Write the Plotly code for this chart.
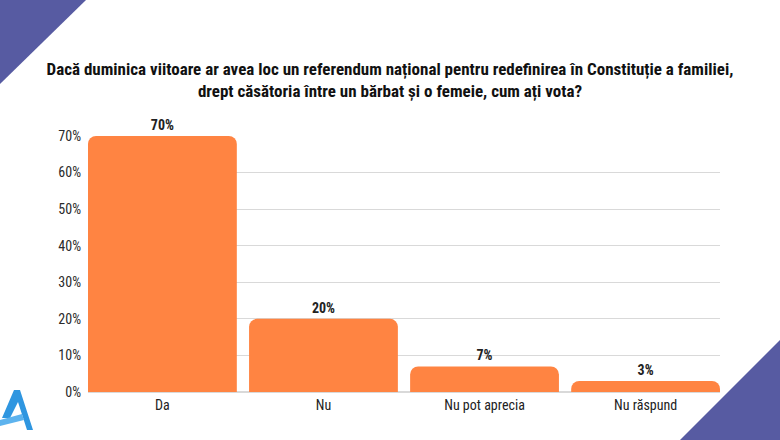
import plotly.graph_objects as go

categories = ["Da", "Nu", "Nu pot aprecia", "Nu răspund"]
values = [70, 20, 7, 3]
tick_vals = [0, 10, 20, 30, 40, 50, 60, 70]
tick_text = ["0%", "10%", "20%", "30%", "40%", "50%", "60%", "70%"]
title_text = ("Dacă duminica viitoare ar avea loc un referendum național pentru redefinirea în Constituție a familiei,<br>"
              "drept căsătoria între un bărbat și o femeie, cum ați vota?")

FONT = "Roboto Condensed, Roboto, sans-serif"
W, H = 780, 440
L, R, T, B = 88, 60, 136, 48
pw, ph = W - L - R, H - T - B

def px(x):
    return (x - L) / pw

def py(y):
    return (H - B - y) / ph

fig = go.Figure(go.Bar(
    x=categories, y=values,
    marker=dict(color="#FF8442", line=dict(width=0)),
    text=[f"{v}%" for v in values], textposition="outside",
    textfont=dict(family=FONT, size=14, color="#222", weight="bold"),
    cliponaxis=False, width=0.924,
))

shapes = [
    dict(type="path", xref="paper", yref="paper",
         path=f"M {px(0)},{py(0)} L {px(86)},{py(0)} L {px(0)},{py(84)} Z",
         fillcolor="#575BA2", line=dict(width=0), layer="below"),
    dict(type="path", xref="paper", yref="paper",
         path=f"M {px(680)},{py(440)} L {px(780)},{py(440)} L {px(780)},{py(340)} Z",
         fillcolor="#575BA2", line=dict(width=0), layer="below"),
    # small logo
    dict(type="path", xref="paper", yref="paper",
         path=(f"M {px(2)},{py(418)} L {px(14)},{py(390)} L {px(20)},{py(390)} L {px(33)},{py(430)} "
               f"L {px(27)},{py(430)} L {px(18)},{py(402)} L {px(10)},{py(418)} Z"),
         fillcolor="#2F96E0", line=dict(width=0), layer="below"),
    dict(type="path", xref="paper", yref="paper",
         path=f"M {px(0)},{py(420)} L {px(22)},{py(414)} L {px(24)},{py(420)} L {px(0)},{py(426)} Z",
         fillcolor="#5DB3EE", line=dict(width=0), layer="below"),
]

fig.update_layout(
    width=W, height=H,
    margin=dict(l=L, r=R, t=T, b=B),
    paper_bgcolor="white", plot_bgcolor="white",
    barcornerradius=8,
    showlegend=False,
    title=dict(text=title_text, x=0.5, xref="container", xanchor="center",
               y=1 - 75 / H, yanchor="top", yref="container",
               font=dict(family=FONT, size=17, color="#111", weight="bold")),
    xaxis=dict(range=[-0.462, 3.462], showgrid=False, showline=False, ticks="",
               tickfont=dict(family=FONT, size=14, color="#222"),
               ticklabelstandoff=3),
    yaxis=dict(range=[0, 70], tickvals=tick_vals, ticktext=tick_text,
               showgrid=True, gridcolor="#D9D9D9", gridwidth=1,
               zeroline=True, zerolinecolor="#D9D9D9",
               tickfont=dict(family=FONT, size=14, color="#2a2a2a"), ticks="",
               ticklabelstandoff=6),
    shapes=shapes,
)

fig.write_html("out.html", config={"displayModeBar": False},
               post_script="document.body.style.margin='0';")
